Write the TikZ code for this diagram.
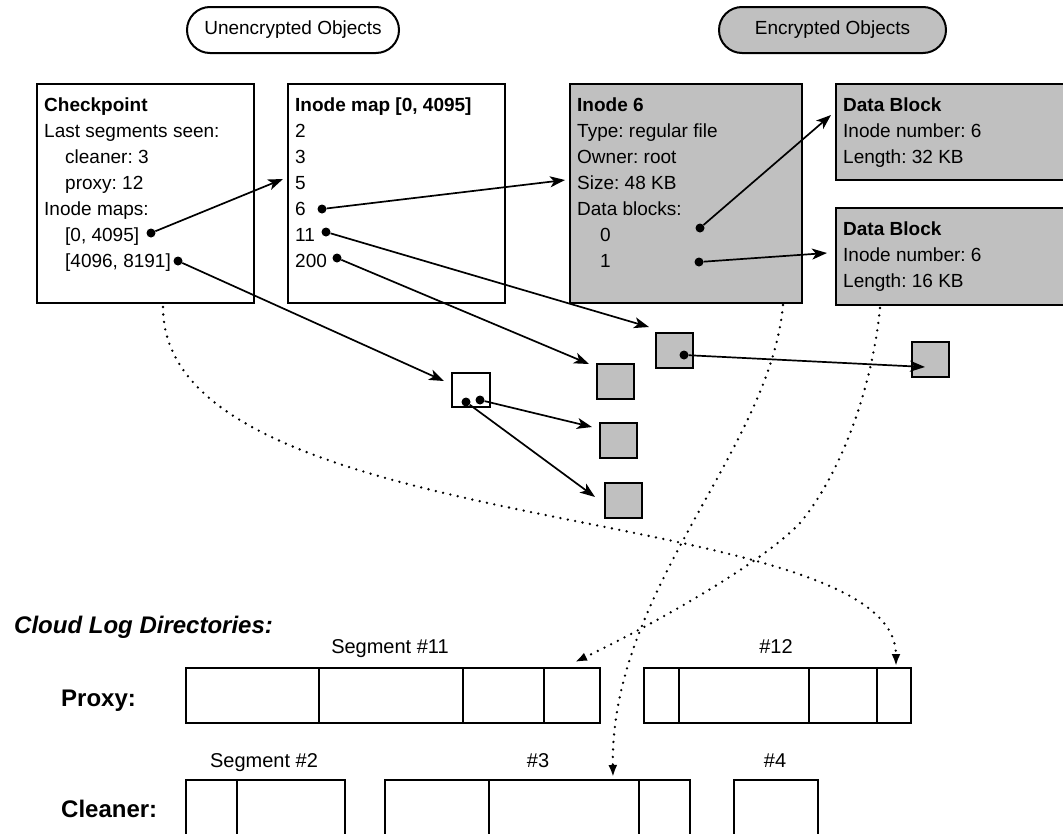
\documentclass[tikz,border=0pt]{standalone}
\usepackage{fontspec}
\setmainfont{Liberation Sans}
\usetikzlibrary{arrows.meta}
\definecolor{grayfill}{RGB}{192,192,192}
\frenchspacing
\begin{document}
\begin{tikzpicture}[x=1pt,y=-1pt,
  box/.style={draw, line width=2.2pt, anchor=north west, inner sep=0pt},
  gbox/.style={box, fill=grayfill},
  txt/.style={anchor=north west, inner sep=0pt, align=left, font=\fontsize{19}{26}\selectfont},
  pill/.style={draw, line width=2pt, rounded corners=23pt, minimum height=46pt, inner sep=0pt, font=\fontsize{19}{23}\selectfont},
  dot/.style={circle, fill=black, inner sep=0pt, minimum size=9pt},
  arr/.style={line width=1.7pt, -{Stealth[length=15pt,width=11pt,inset=4pt]}},
  sq/.style={draw, line width=2.2pt, fill=grayfill, minimum width=37pt, minimum height=35pt, inner sep=0pt, anchor=north west},
  dotarr/.style={line width=2.6pt, line cap=round, dash pattern=on 0pt off 7.5pt, -{Latex[length=12pt,width=9pt]}},
  seg/.style={draw, line width=2pt, anchor=north west, inner sep=0pt},
  div/.style={line width=1.4pt},
  seglabel/.style={anchor=base, inner sep=0pt, font=\fontsize{20}{24}\selectfont},
  dirlabel/.style={anchor=base west, inner sep=0pt, font=\fontsize{24}{28}\selectfont\bfseries}
]
\useasboundingbox (0,0) rectangle (1063,833);
\clip (0,0) rectangle (1063,833);

% legend pills
\node[pill, minimum width=212pt] (unenc) at (293,30) {Unencrypted Objects};
\node[pill, minimum width=227pt, fill=grayfill] (enc) at (832.5,30) {Encrypted Objects};

% main boxes
\node[box, minimum width=217pt, minimum height=219pt] (ck) at (36,83) {};
\node[box, minimum width=217pt, minimum height=219pt] (imap) at (287,83) {};
\node[gbox, minimum width=232pt, minimum height=219pt] (in6) at (569,83) {};
\node[gbox, minimum width=228pt, minimum height=96pt] (db1) at (835,83) {};
\node[gbox, minimum width=228pt, minimum height=97pt] (db2) at (835,207) {};

\node[txt] (ckt) at (44,97.4) {\textbf{Checkpoint}\\Last segments seen:\\\hspace*{21pt}cleaner: 3\\\hspace*{21pt}proxy: 12\\Inode maps:\\\hspace*{21pt}[0, 4095]\\\hspace*{21pt}[4096, 8191]};
\node[txt] (imapt) at (295,97.4) {\textbf{Inode map [0, 4095]}\\2\\3\\5\\6\\11\\200};
\node[txt] (in6t) at (577,97.4) {\textbf{Inode 6}\\Type: regular file\\Owner: root\\Size: 48 KB\\Data blocks:\\\hspace*{23pt}0\\\hspace*{23pt}1};
\node[txt] (db1t) at (843,97.4) {\textbf{Data Block}\\Inode number: 6\\Length: 32 KB};
\node[txt] (db2t) at (843,221.8) {\textbf{Data Block}\\Inode number: 6\\Length: 16 KB};

% small squares
\node[sq, fill=white, minimum width=38pt, minimum height=34pt] (W) at (451,372) {};
\node[sq] (A) at (655,332) {};
\node[sq] (B) at (596,363) {};
\node[sq] (C) at (599,422) {};
\node[sq] (D) at (911,341) {};
\node[sq] (E) at (604,482) {};

% dots
\node[dot] (dck0) at (151,233) {};
\node[dot] (dck1) at (178,261) {};
\node[dot] (d6) at (322,209) {};
\node[dot] (d11) at (326,232) {};
\node[dot] (d200) at (337,258) {};
\node[dot] (db0) at (700,228) {};
\node[dot] (dbb1) at (699,262) {};
\node[dot] (dA) at (684,355) {};
\node[dot] (dW1) at (466,402) {};
\node[dot] (dW2) at (480,400) {};

% arrow targets
\coordinate (timap) at (283,179);
\coordinate (tW) at (444,381);
\coordinate (tin6) at (565,180);
\coordinate (tA) at (649,327);
\coordinate (tB) at (589,364);
\coordinate (tdb1) at (831,115);
\coordinate (tdb2) at (827,253);
\coordinate (tD) at (925,367);
\coordinate (tC) at (592,427);
\coordinate (tE) at (595,497);

\draw[arr] (dck0) -- (timap);
\draw[arr] (dck1) -- (tW);
\draw[arr] (d6) -- (tin6);
\draw[arr] (d11) -- (tA);
\draw[arr] (d200) -- (tB);
\draw[arr] (db0) -- (tdb1);
\draw[arr] (dbb1) -- (tdb2);
\draw[arr] (dA) -- (tD);
\draw[arr] (dW2) -- (tC);
\draw[arr] (dW1) -- (tE);

% bottom: cloud log directories
\node[dirlabel, font=\fontsize{24}{28}\selectfont\bfseries\itshape] (cld) at (14,633) {Cloud Log Directories:};
\node[dirlabel] (proxy) at (61,706) {Proxy:};
\node[dirlabel] (cleaner) at (61,817) {Cleaner:};

\node[seglabel] (l11) at (390,653) {Segment \#11};
\node[seglabel] (l12) at (776,653) {\#12};
\node[seglabel] (l2) at (264,767) {Segment \#2};
\node[seglabel] (l3) at (538,767) {\#3};
\node[seglabel] (l4) at (775,767) {\#4};

\node[seg, minimum width=414pt, minimum height=55pt] (s11) at (185,667) {};
\draw[div] (319,667) -- (319,722) (463,667) -- (463,722) (544,667) -- (544,722);
\node[seg, minimum width=267pt, minimum height=55pt] (s12) at (643,667) {};
\draw[div] (679,667) -- (679,722) (809,667) -- (809,722) (877,667) -- (877,722);

\node[seg, minimum width=159pt, minimum height=80pt] (s2) at (185,779) {};
\draw[div] (237,779) -- (237,860);
\node[seg, minimum width=305pt, minimum height=80pt] (s3) at (384,779) {};
\draw[div] (489,779) -- (489,860) (639,779) -- (639,860);
\node[seg, minimum width=84pt, minimum height=80pt] (s4) at (733,779) {};

% dotted references
\coordinate (c1s) at (163,307);
\coordinate (c1e) at (896,666);
\coordinate (c2s) at (783,305);
\coordinate (c2e) at (613,777);
\coordinate (c3s) at (880,308);
\coordinate (c3e) at (575,662);
\draw[dotarr] (c1s) .. controls (163,545) and (896,499) .. (c1e);
\draw[dotarr] (c2s) .. controls (770,450) and (610,590) .. (c2e);
\draw[dotarr] (c3s) .. controls (872,390) and (840,475) .. (800,523) .. controls (760,565) and (650,626) .. (c3e);
\end{tikzpicture}
\end{document}
